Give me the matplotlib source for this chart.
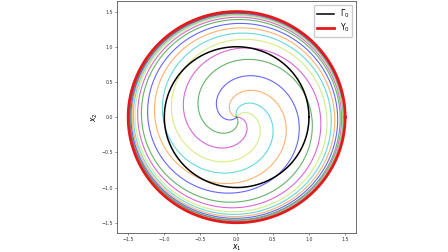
import numpy as np
import matplotlib
matplotlib.use("Agg")
import matplotlib.pyplot as plt

# ---- data ----
limit_radius = 1.5          # Y0 (limit cycle)
gamma_radius = 1.0          # Gamma0
arm_start_deg = [3.0, 60.7, 112.0, 166.6, 227.0, 301.0]
arm_colors = ['m', '#b8e03a', 'c', '#ff7f0e', 'b', 'g']
winding_scale = 6.16        # radians of turning per unit of artanh(r/R)
turn_span = 5.2 * np.pi     # total clockwise turning of each arm

fig = plt.figure(figsize=(4.48, 2.52), dpi=100)
ax = fig.add_axes([117.3/448, (252-233.3)/252, 238.7/448, 232.3/252])

# trajectories of  dr/dt = 1 - (r/R)^2 ,  dtheta/dt = -1/c  (integrated by Euler steps)
for th0, col in zip(arm_start_deg, arm_colors):
    n = 4000
    dphi = turn_span / n
    r = np.zeros(n + 1)
    th = np.zeros(n + 1)
    th[0] = np.deg2rad(th0)
    for i in range(n):
        r[i+1] = r[i] + limit_radius / winding_scale * (1 - (r[i]/limit_radius)**2) * dphi
        th[i+1] = th[i] - dphi
    ax.plot(r*np.cos(th), r*np.sin(th), color=col, alpha=0.6, lw=0.8)

t = np.linspace(0, 2*np.pi, 400)
ax.plot(gamma_radius*np.cos(t), gamma_radius*np.sin(t), color='k', lw=1.1, label=r'$\Gamma_0$')
ax.plot(limit_radius*np.cos(t), limit_radius*np.sin(t), color='#e31a1c', lw=2.0, label=r'$\Upsilon_0$')

ax.set_xlim(-1.65, 1.65)
ax.set_ylim(-1.65, 1.65)
ticks = [-1.5, -1.0, -0.5, 0.0, 0.5, 1.0, 1.5]
ax.set_xticks(ticks)
ax.set_yticks(ticks)
ax.tick_params(labelsize=3.4, length=1.5, width=0.4, pad=1.5, colors='#333333')
for s in ax.spines.values():
    s.set_linewidth(0.6)
    s.set_color('#555555')
ax.set_xlabel(r'$x_1$', fontsize=5.5, labelpad=0)
ax.set_ylabel(r'$x_2$', fontsize=5.5, labelpad=1)
ax.legend(loc='upper right', fontsize=5.5, handlelength=2.3, borderpad=0.35,
          labelspacing=0.25, handletextpad=0.7, framealpha=1, edgecolor='#cccccc',
          fancybox=True, borderaxespad=0.5)
fig.savefig('out.png', dpi=100)
